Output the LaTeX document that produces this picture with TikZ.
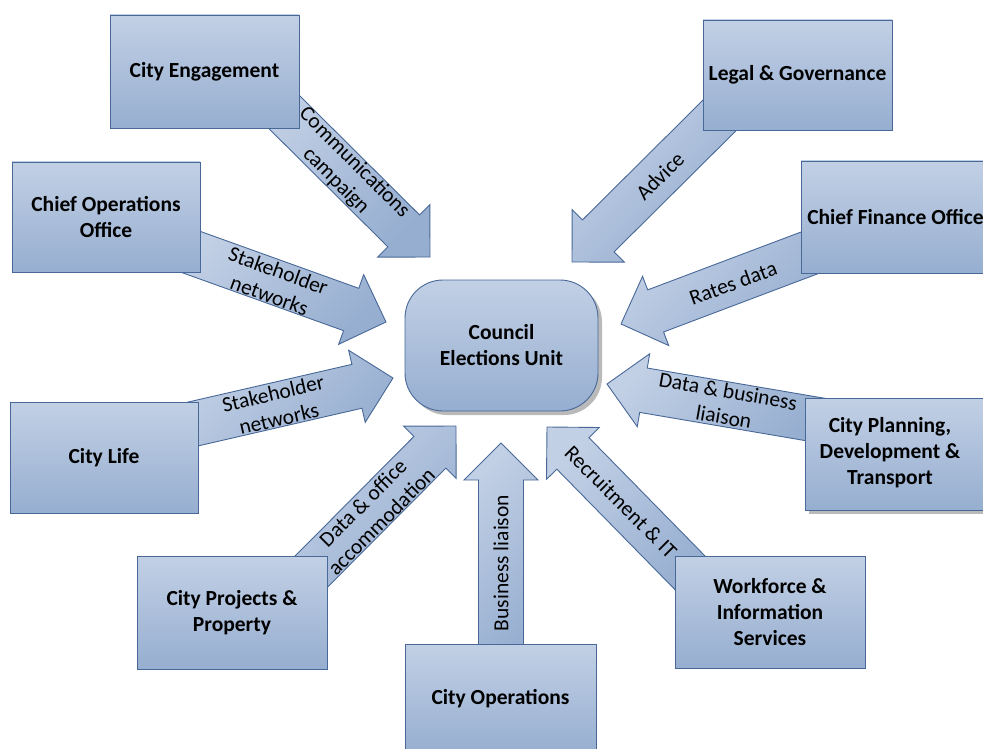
\documentclass[tikz,border=0pt]{standalone}
\usepackage{fontspec}
\setmainfont{Carlito}
\usetikzlibrary{shadows,calc}
\definecolor{boxtop}{RGB}{194,208,229}
\definecolor{boxbot}{RGB}{150,174,208}
\definecolor{boxline}{RGB}{72,104,152}
\tikzset{
  unitbox/.style={draw=boxline, line width=0.9pt, top color=boxtop, bottom color=boxbot,
    inner sep=0pt, align=center, text=black, font=\bfseries\fontsize{21.5}{26}\selectfont},
  boxtext/.style={inner sep=0pt, align=center, text=black, font=\bfseries\fontsize{21.5}{26}\selectfont},
  blockarr/.style={draw=boxline, line width=0.9pt, top color=boxtop, bottom color=boxbot, shading angle=45},
  arrlabel/.style={inner sep=0pt, align=center, text=black, font=\fontsize{21.5}{26}\selectfont},
  boxshadow/.style={drop shadow={shadow xshift=4pt, shadow yshift=-4pt, fill=black!45, opacity=0.6}}
}
% block arrow from coordinate #1 to coordinate #2 (tip)
\newcommand\blockarrow[2]{%
  \pgfpointdiff{\pgfpointanchor{#1}{center}}{\pgfpointanchor{#2}{center}}%
  \pgfgetlastxy{\bax}{\bay}%
  \pgfmathsetmacro\baang{atan2(\bay,\bax)}%
  \pgfmathsetmacro\balen{veclen(\bax,\bay)}%
  \begin{scope}[shift={(#1)}, rotate=\baang]
    \draw[blockarr] (0pt,-22.5pt) -- (\balen pt-37pt,-22.5pt) -- (\balen pt-37pt,-37pt)
      -- (\balen pt,0pt) -- (\balen pt-37pt,37pt) -- (\balen pt-37pt,22.5pt) -- (0pt,22.5pt) -- cycle;
  \end{scope}}
\begin{document}
\begin{tikzpicture}[x=1pt,y=-1pt]
\useasboundingbox (0,0) rectangle (983,749);
% arrow end points
\coordinate (ceS) at (270,98);   \coordinate (ceT) at (430,257);
\coordinate (cooS) at (180,248); \coordinate (cooT) at (386,322);
\coordinate (clS) at (180,427);  \coordinate (clT) at (393,378);
\coordinate (cppS) at (300,583); \coordinate (cppT) at (456,426);
\coordinate (copsS) at (501,670);\coordinate (copsT) at (501,443);
\coordinate (wisS) at (700,583); \coordinate (wisT) at (547,427);
\coordinate (cpdtS) at (830,422);\coordinate (cpdtT) at (607,384);
\coordinate (cfoS) at (825,247); \coordinate (cfoT) at (621,324);
\coordinate (lgS) at (730,105);  \coordinate (lgT) at (572,262);
% arrows
\blockarrow{ceS}{ceT}
\blockarrow{cooS}{cooT}
\blockarrow{clS}{clT}
\blockarrow{cppS}{cppT}
\blockarrow{copsS}{copsT}
\blockarrow{wisS}{wisT}
\blockarrow{cpdtS}{cpdtT}
\blockarrow{cfoS}{cfoT}
\blockarrow{lgS}{lgT}
% arrow labels
\node[arrlabel, rotate=-45] (ceL) at (345,172) {Communications\\campaign};
\node[arrlabel, rotate=-20] (cooL) at (274,283) {Stakeholder\\networks};
\node[arrlabel, rotate=13] (clL) at (276,406) {Stakeholder\\networks};
\node[arrlabel, rotate=45] (cppL) at (372,512) {Data \& office\\accommodation};
\node[arrlabel, rotate=90] (copsL) at (501,563) {Business liaison};
\node[arrlabel, rotate=-45] (wisL) at (621,502) {Recruitment \& IT};
\node[arrlabel, rotate=-10] (cpdtL) at (726,404) {Data \& business\\liaison};
\node[arrlabel, rotate=20] (cfoL) at (733,283) {Rates data};
\node[arrlabel, rotate=45] (lgL) at (660,176) {Advice};
% boxes
\node[unitbox, minimum width=189pt, minimum height=113pt] (ce) at (204.5,71.5) {City Engagement};
\node[unitbox, minimum width=189pt, minimum height=110pt] (lg) at (797.5,75) {Legal \& Governance};
\node[unitbox, minimum width=188pt, minimum height=110pt] (coo) at (106,217) {Chief Operations\\Office};
\node[unitbox, minimum width=189pt, minimum height=112pt] (cfo) at (895.5,217) {Chief Finance Office};
\node[unitbox, minimum width=188pt, minimum height=111pt] (cl) at (104,457.5) {City Life};
\node[unitbox, boxshadow, minimum width=190pt, minimum height=112pt] (cpdt) at (900,454) {};
\node[boxtext] (cpdtX) at (890,453) {City Planning,\\Development \&\\Transport};
\node[unitbox, minimum width=190pt, minimum height=113pt] (cpp) at (232,612.5) {City Projects \&\\Property};
\node[unitbox, minimum width=190pt, minimum height=112pt] (wis) at (770,612) {Workforce \&\\Information\\Services};
\node[unitbox, minimum width=191pt, minimum height=110pt] (cops) at (500.5,699) {City Operations};
\node[unitbox, boxshadow, rounded corners=38pt, minimum width=193pt, minimum height=131pt] (ceu) at (501.5,345.5) {Council\\Elections Unit};
\end{tikzpicture}
\end{document}
